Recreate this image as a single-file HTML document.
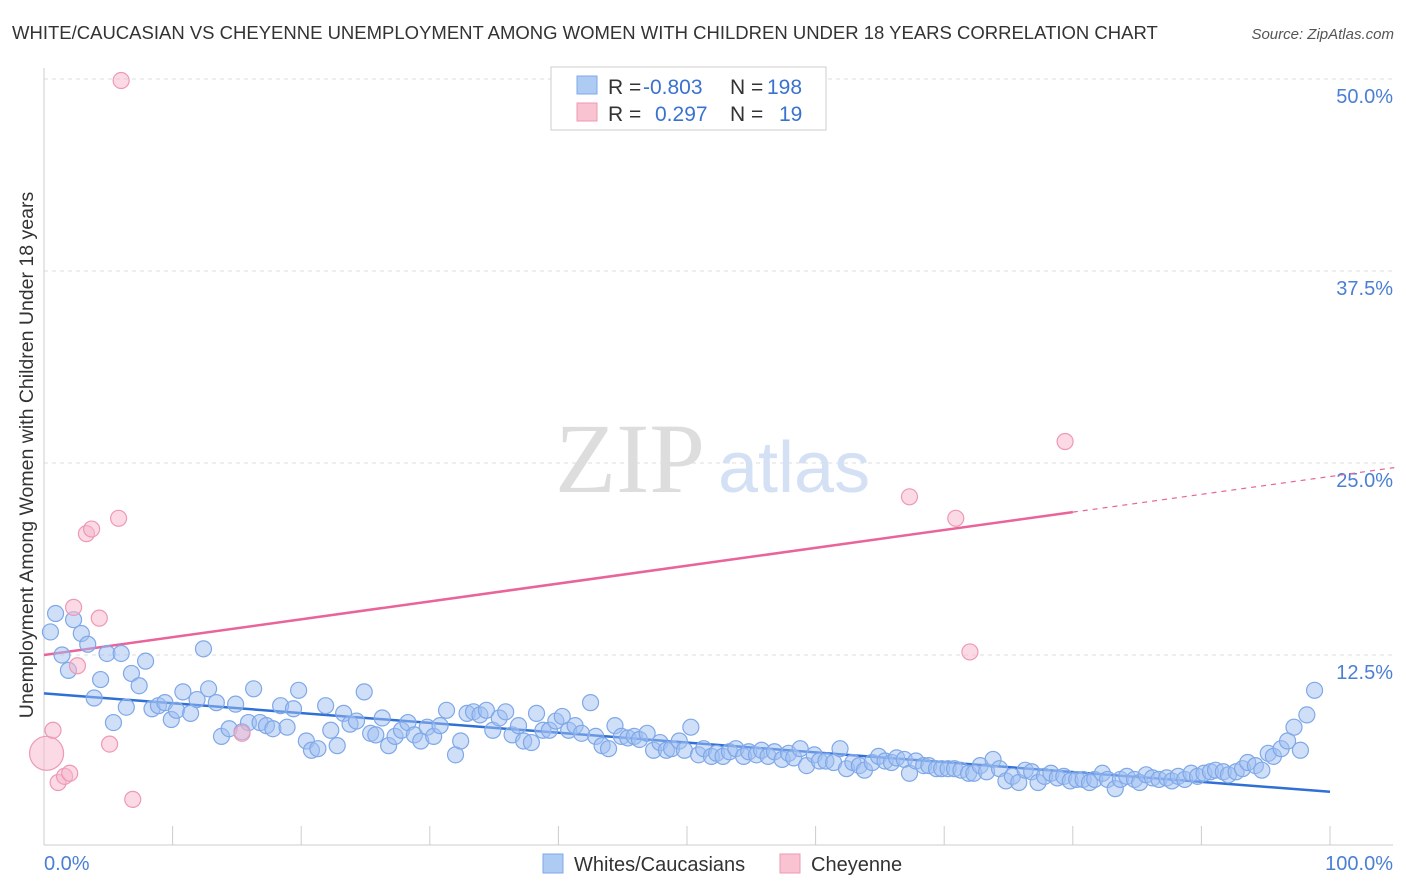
<!DOCTYPE html>
<html><head><meta charset="utf-8"><style>
body{margin:0;background:#fff;font-family:"Liberation Sans",sans-serif;}
svg{display:block}
</style></head><body>
<svg width="1406" height="892" xmlns="http://www.w3.org/2000/svg">
<text x="12" y="39" font-size="18.5" fill="#333">WHITE/CAUCASIAN VS CHEYENNE UNEMPLOYMENT AMONG WOMEN WITH CHILDREN UNDER 18 YEARS CORRELATION CHART</text>
<text x="1394" y="39" font-size="15" fill="#555" font-style="italic" text-anchor="end">Source: ZipAtlas.com</text>
<g id="grid"></g>
<text x="555" y="492" font-size="100" fill="#ddd" font-family="Liberation Serif,serif">ZIP</text>
<text x="718" y="492" font-size="72" fill="#d4e0f4">atlas</text>
<g id="axes"></g>
<g id="lines"></g>
<g id="pts"></g>
<text transform="translate(33,455) rotate(-90)" font-size="19.5" fill="#333" text-anchor="middle">Unemployment Among Women with Children Under 18 years</text>
<text x="44" y="870" font-size="20" fill="#4a7fd4">0.0%</text>
<text x="1393" y="870" font-size="20" fill="#4a7fd4" text-anchor="end">100.0%</text>
<g>
<rect x="551" y="67" width="275" height="63" fill="#fff" stroke="#ccc"/>
<rect x="577" y="76" width="20" height="18" fill="#aecbf3" stroke="#7fa8e8"/>
<rect x="577" y="103" width="20" height="18" fill="#f9c3d2" stroke="#ee99b4"/>
<text x="608" y="94" font-size="21" fill="#333">R =</text>
<text x="643" y="94" font-size="21" fill="#3a72d0">-0.803</text>
<text x="730" y="94" font-size="21" fill="#333">N =</text>
<text x="767" y="94" font-size="21" fill="#3a72d0">198</text>
<text x="608" y="121" font-size="21" fill="#333">R =</text>
<text x="655" y="121" font-size="21" fill="#3a72d0">0.297</text>
<text x="730" y="121" font-size="21" fill="#333">N =</text>
<text x="779" y="121" font-size="21" fill="#3a72d0">19</text>
</g>
<g>
<rect x="543" y="854" width="20" height="19" fill="#aecbf3" stroke="#7fa8e8"/>
<text x="574" y="871" font-size="20" fill="#333">Whites/Caucasians</text>
<rect x="780" y="854" width="20" height="19" fill="#f9c3d2" stroke="#ee99b4"/>
<text x="811" y="871" font-size="20" fill="#333">Cheyenne</text>
</g>
</svg>
<script>
const yTicks=[12.5,25,37.5,50];
const yTickLabels=["12.5%","25.0%","37.5%","50.0%"];
const xTicks=[0,10,20,30,40,50,60,70,80,90,100];
const blueX=[0.5,0.9,1.4,1.9,2.3,2.9,3.4,3.9,4.4,4.9,5.4,6.0,6.4,6.8,7.4,7.9,8.4,8.9,9.4,9.9,10.3,10.8,11.4,11.9,12.4,12.8,13.4,13.8,14.4,14.9,15.4,15.9,16.3,16.8,17.3,17.8,18.4,18.9,19.4,19.8,20.4,20.8,21.3,21.9,22.3,22.8,23.3,23.8,24.3,24.9,25.4,25.8,26.3,26.8,27.3,27.8,28.3,28.8,29.3,29.8,30.3,30.8,31.3,32.0,32.4,32.9,33.4,33.9,34.4,34.9,35.4,35.9,36.4,36.9,37.3,37.9,38.3,38.8,39.3,39.8,40.3,40.8,41.3,41.8,42.5,42.9,43.4,43.9,44.4,44.9,45.4,45.9,46.3,46.9,47.4,47.9,48.4,48.8,49.4,49.8,50.3,50.9,51.3,51.9,52.3,52.8,53.3,53.8,54.4,54.8,55.4,55.8,56.3,56.8,57.4,57.9,58.3,58.8,59.3,59.9,60.3,60.8,61.4,61.9,62.4,62.9,63.4,63.8,64.4,64.9,65.4,65.9,66.3,66.9,67.3,67.8,68.4,68.8,69.4,69.8,70.3,70.8,71.3,71.9,72.3,72.8,73.3,73.8,74.3,74.8,75.3,75.8,76.3,76.8,77.3,77.8,78.3,78.8,79.3,79.8,80.3,80.8,81.3,81.7,82.3,82.7,83.3,83.7,84.2,84.8,85.2,85.7,86.2,86.7,87.3,87.7,88.2,88.7,89.2,89.7,90.2,90.7,91.1,91.7,92.1,92.7,93.2,93.6,94.2,94.7,95.2,95.6,96.2,96.7,97.2,97.7,98.2,98.8];
const blueY=[14.0,15.2,12.5,11.5,14.8,13.9,13.2,9.7,10.9,12.6,8.1,12.6,9.1,11.3,10.5,12.1,9.0,9.2,9.4,8.3,8.9,10.1,8.7,9.6,12.9,10.3,9.4,7.2,7.7,9.3,7.5,8.1,10.3,8.1,7.9,7.7,9.2,7.8,9.0,10.2,6.9,6.3,6.4,9.2,7.6,6.6,8.7,8.0,8.2,10.1,7.4,7.3,8.4,6.6,7.2,7.6,8.1,7.3,6.9,7.8,7.2,7.9,8.9,6.0,6.9,8.7,8.8,8.6,8.9,7.6,8.4,8.8,7.3,7.9,6.9,6.8,8.7,7.6,7.6,8.2,8.5,7.6,7.9,7.4,9.4,7.2,6.6,6.4,7.9,7.2,7.1,7.2,7.0,7.4,6.3,6.8,6.3,6.4,6.9,6.3,7.8,6.0,6.4,5.9,6.1,5.9,6.2,6.4,5.9,6.2,6.0,6.3,5.9,6.2,5.7,6.1,5.8,6.4,5.3,6.0,5.6,5.6,5.5,6.4,5.1,5.5,5.3,5.0,5.5,5.9,5.6,5.5,5.8,5.7,4.8,5.6,5.3,5.3,5.1,5.1,5.1,5.1,5.0,4.8,4.8,5.3,4.9,5.7,5.1,4.3,4.6,4.2,5.0,4.9,4.2,4.6,4.8,4.5,4.6,4.3,4.4,4.4,4.2,4.4,4.8,4.4,3.8,4.4,4.6,4.4,4.2,4.7,4.5,4.4,4.5,4.3,4.6,4.4,4.8,4.6,4.8,4.9,5.0,4.9,4.7,4.9,5.1,5.5,5.3,5.0,6.1,5.9,6.4,6.9,7.8,6.3,8.6,10.2];
const pinkX=[0.2,0.7,1.1,1.6,2.0,2.3,2.6,3.3,3.7,4.3,5.1,5.8,6.0,6.9,15.4,67.3,70.9,72.0,79.4];
const pinkY=[6.1,7.6,4.2,4.6,4.8,15.6,11.8,20.4,20.7,14.9,6.7,21.4,49.9,3.1,7.4,22.8,21.4,12.7,26.4];
const blueTrend=[[0,10.0],[100,3.6]];
const pinkTrend=[[0,12.5],[80,21.8],[105,24.7]];

const NS="http://www.w3.org/2000/svg";
const X=v=>44+v*12.86, Y=v=>847-v*15.36;
function mk(tag,attrs,parent){const e=document.createElementNS(NS,tag);for(const k in attrs)e.setAttribute(k,attrs[k]);document.getElementById(parent).appendChild(e);return e;}
yTicks.forEach((t,i)=>{
 const l=mk('line',{x1:44,x2:1393,y1:Y(t),y2:Y(t),stroke:'#ddd','stroke-dasharray':'4,4'},'grid');
 
 
 const tx=mk('text',{x:1393,y:Y(t)+24,'font-size':20,fill:'#4a7fd4','text-anchor':'end','font-family':'Liberation Sans,sans-serif'},'grid');
 tx.textContent=yTickLabels[i];
 
 
});
const ax=mk('line',{x1:44,x2:44,y1:68,y2:845,stroke:'#ccc'},'axes');


const bx=mk('line',{x1:44,x2:1393,y1:845,y2:845,stroke:'#ccc'},'axes');


xTicks.forEach(t=>{
 const l=mk('line',{x1:X(t),x2:X(t),y1:826,y2:845,stroke:'#ccc'},'axes');
 
 
});
const bl=mk('line',{x1:X(blueTrend[0][0]),y1:Y(blueTrend[0][1]),x2:X(blueTrend[1][0]),y2:Y(blueTrend[1][1]),stroke:'#2f6fd6','stroke-width':2.5},'lines');


const pl=mk('line',{x1:X(pinkTrend[0][0]),y1:Y(pinkTrend[0][1]),x2:X(pinkTrend[1][0]),y2:Y(pinkTrend[1][1]),stroke:'#e8649a','stroke-width':2.5},'lines');


const pd=mk('line',{x1:X(pinkTrend[1][0]),y1:Y(pinkTrend[1][1]),x2:X(pinkTrend[2][0]),y2:Y(pinkTrend[2][1]),stroke:'#e8649a','stroke-width':1.2,'stroke-dasharray':'5,5'},'lines');


blueX.forEach((x,i)=>{
 const c=mk('circle',{cx:X(x),cy:Y(blueY[i]),r:8,fill:'rgba(160,192,242,0.5)',stroke:'#7fa8e8','stroke-width':1.2},'pts');
 
 
});
pinkX.forEach((x,i)=>{
 const c=mk('circle',{cx:X(x),cy:Y(pinkY[i]),r:i===0?17:8,fill:'rgba(248,182,204,0.5)',stroke:'#ee99b4','stroke-width':1.2},'pts');
 
 
});
</script>
</body></html>
